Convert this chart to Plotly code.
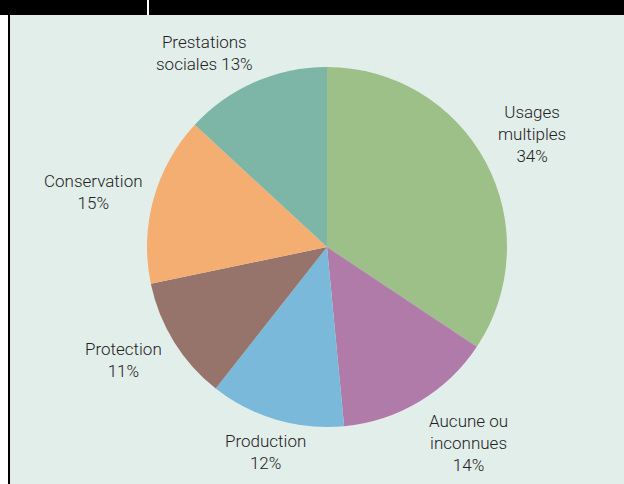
import plotly.graph_objects as go

categories = ["Usages multiples", "Aucune ou inconnues", "Production", "Protection", "Conservation", "Prestations sociales"]
values = [34, 14, 12, 11, 15, 13]
colors = ["#9dbf88", "#b07ba8", "#7ab9d9", "#96746b", "#f5ae72", "#7db5a6"]
label_text = ["Usages<br>multiples<br>34%", "Aucune ou<br>inconnues<br>14%", "Production<br>12%",
              "Protection<br>11%", "Conservation<br>15%", "Prestations<br>sociales 13%"]
# label centres in pixels (x, y)
label_pos = [(532, 134), (468, 443), (265, 452), (123, 360), (93, 192), (204, 53)]

W, H = 624, 484
BG = "#e2eeea"

def px(x):
    return x / W

def py(y):
    return 1 - y / H

fig = go.Figure(go.Pie(
    labels=categories, values=values, sort=False, direction="clockwise", rotation=0,
    marker=dict(colors=colors, line=dict(width=0)),
    textinfo="none", hoverinfo="label+percent", showlegend=False,
    domain=dict(x=[px(147), px(507)], y=[py(427), py(67)]),
))

for t, (x, y) in zip(label_text, label_pos):
    fig.add_annotation(text=t, x=px(x), y=py(y), xref="paper", yref="paper",
                       xanchor="center", yanchor="middle", showarrow=False, align="center",
                       font=dict(family="Roboto, Liberation Sans, Arial, sans-serif", size=17,
                                 weight=300, color="#222222"))

shapes = [
    dict(type="rect", xref="paper", yref="paper", x0=0, x1=px(8), y0=0, y1=1, fillcolor="white", line=dict(width=0), layer="below"),
    dict(type="rect", xref="paper", yref="paper", x0=px(8), x1=px(10), y0=0, y1=1, fillcolor="black", line=dict(width=0), layer="below"),
    dict(type="rect", xref="paper", yref="paper", x0=0, x1=1, y0=py(15), y1=1, fillcolor="black", line=dict(width=0), layer="below"),
    dict(type="rect", xref="paper", yref="paper", x0=px(147), x1=px(149), y0=py(15), y1=1, fillcolor="white", line=dict(width=0), layer="below"),
]
fig.update_layout(width=W, height=H, margin=dict(l=0, r=0, t=0, b=0),
                  paper_bgcolor=BG, plot_bgcolor=BG, shapes=shapes)
fig.write_html("out.html", config={"displayModeBar": False},
               post_script="document.body.style.margin='0';document.body.style.overflow='hidden';")
